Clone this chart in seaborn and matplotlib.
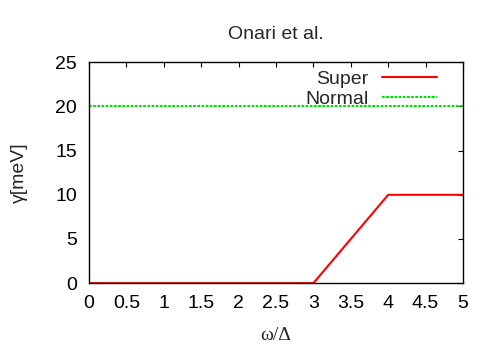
import pandas as pd
import matplotlib
matplotlib.use('Agg')
import matplotlib.pyplot as plt
import seaborn as sns

# Data
omega = [0, 3, 4, 5]
gamma_super = [0, 0, 10, 10]
omega_normal = [0, 5]
gamma_normal = [20, 20]

xticks = [0, 0.5, 1, 1.5, 2, 2.5, 3, 3.5, 4, 4.5, 5]
xticklabels = ['0', '0.5', '1', '1.5', '2', '2.5', '3', '3.5', '4', '4.5', '5']
yticks = [0, 5, 10, 15, 20, 25]

sns.set_style('white')
plt.rcParams['font.family'] = ['Liberation Sans', 'DejaVu Sans']
fs = 14

fig = plt.figure(figsize=(5, 3.5), dpi=100)
ax = fig.add_axes([0.178, 0.191, 0.748, 0.631])

df_super = pd.DataFrame({'omega': omega, 'gamma': gamma_super})
df_normal = pd.DataFrame({'omega': omega_normal, 'gamma': gamma_normal})

sns.lineplot(data=df_super, x='omega', y='gamma', ax=ax, color='#ff0000',
             linewidth=1.5, label='Super')
sns.lineplot(data=df_normal, x='omega', y='gamma', ax=ax, color='#00e000',
             linewidth=1.5, linestyle=(0, (1.3, 0.7)), label='Normal')

ax.set_xlim(0, 5)
ax.set_ylim(0, 25)
ax.set_xticks(xticks)
ax.set_xticklabels(xticklabels)
ax.set_yticks(yticks)
ax.tick_params(direction='in', length=3.5, width=0.8, top=True, right=True,
               labelsize=fs, colors='black')
ax.tick_params(axis='x', pad=8.5)
ax.tick_params(axis='y', pad=8.5)
for s in ax.spines.values():
    s.set_color('black')
    s.set_linewidth(1.0)

ax.set_xlabel('ω/Δ', fontsize=fs, labelpad=11, family=['Liberation Serif', 'DejaVu Serif'])
ax.set_ylabel('γ[meV]', fontsize=fs, labelpad=20)
ax.set_title('Onari et al.', fontsize=fs, pad=17)

leg = ax.legend(loc='upper right', frameon=False, markerfirst=False,
                handlelength=2.8, handletextpad=0.7, labelspacing=0.12,
                borderaxespad=0, borderpad=0, bbox_to_anchor=(0.93, 0.965),
                fontsize=fs)

fig.savefig('out.png', dpi=100)
